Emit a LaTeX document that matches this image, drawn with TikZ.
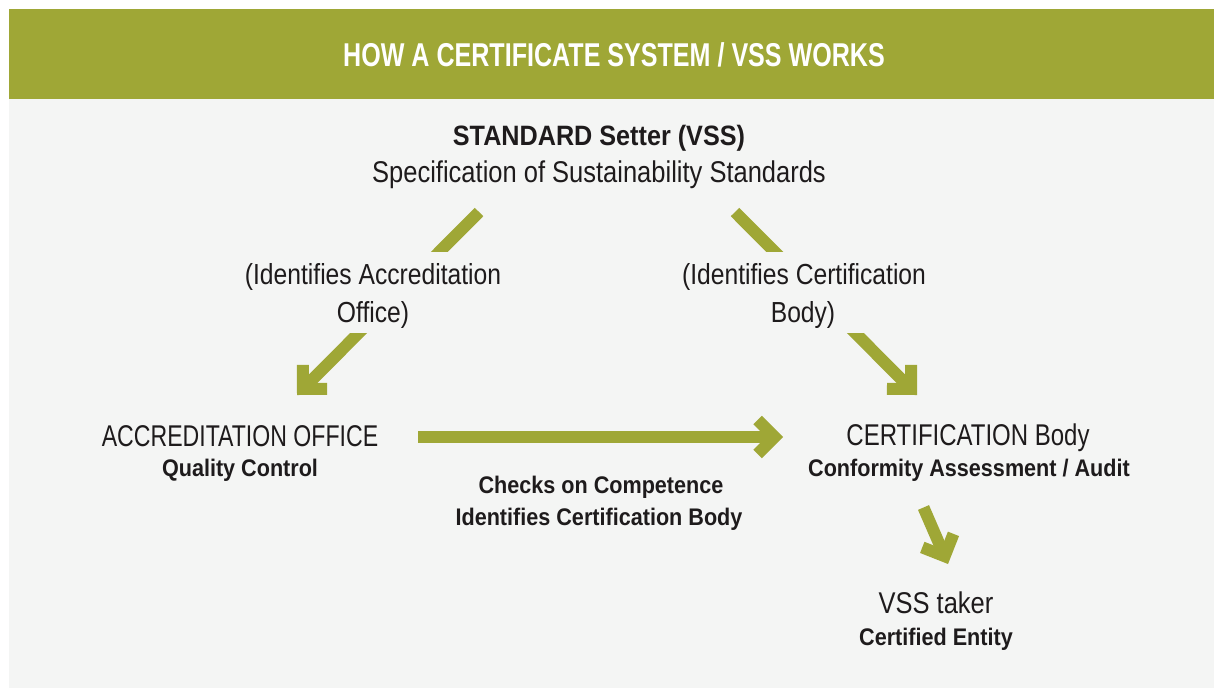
\documentclass[tikz,border=0pt]{standalone}
\usepackage{fontspec}
\setmainfont{Liberation Sans}
\newfontfamily\regf{Liberation Sans}[FakeStretch=0.77]
\newfontfamily\regwf{Liberation Sans}[FakeStretch=0.85]
\newfontfamily\regmf{Liberation Sans}[FakeStretch=0.80]
\newfontfamily\bldf{Liberation Sans}[FakeStretch=0.9]
\newfontfamily\ttlf{Liberation Sans}[FakeStretch=0.76]
\usetikzlibrary{arrows.meta}
\definecolor{hdr}{RGB}{159,167,54}
\definecolor{panel}{RGB}{244,245,244}
\definecolor{ink}{RGB}{30,27,28}
\tikzset{
  txt/.style={inner sep=0pt, anchor=base, text=ink},
  regtxt/.style={txt, font=\regf\fontsize{30}{36}\selectfont},
  midtxt/.style={txt, font=\regmf\fontsize{30}{36}\selectfont},
  widetxt/.style={txt, font=\regwf\fontsize{30}{36}\selectfont},
  lbltxt/.style={txt, font=\regwf\fontsize{29}{36}\selectfont},
  bldtxt/.style={txt, font=\bldf\bfseries\fontsize{24}{28}\selectfont},
  bigbld/.style={txt, font=\bldf\bfseries\fontsize{28}{32}\selectfont},
  ttltxt/.style={inner sep=0pt, anchor=base, text=white, font=\ttlf\bfseries\fontsize{33}{36}\selectfont},
  fat/.style={draw=hdr, line width=12pt, line cap=butt,
    -{Straight Barb[sharp, length=17pt, width=34pt]}},
}
\begin{document}
\begin{tikzpicture}[x=1pt, y=-1pt]
\useasboundingbox (0,0) rectangle (1214,688);
\fill[white] (0,0) rectangle (1214,688);
\fill[panel] (9,99) rectangle (1214,688);
\fill[hdr] (9,9) rectangle (1214,99);
\node[ttltxt] (title) at (614,66) {HOW A CERTIFICATE SYSTEM / VSS WORKS};

% arrow end points
\coordinate (sA) at (479,212);
\coordinate (tA) at (297,395);
\coordinate (sB) at (735,212);
\coordinate (tB) at (917,395);
\coordinate (sC) at (418,437);
\coordinate (tC) at (783,437);
\coordinate (sD) at (923.5,507.5);
\coordinate (tD) at (948,564);

\draw[fat] (sA) -- (tA);
\draw[fat] (sB) -- (tB);
\draw[fat] (sC) -- (tC);
\draw[fat] (sD) -- (tD);

% gaps behind the arrow labels
\fill[panel] (240,252) rectangle (510,333);
\fill[panel] (675,252) rectangle (935,333);

\node[bigbld] (std) at (599,145) {STANDARD Setter (VSS)};
\node[widetxt] (stdsub) at (599,182) {Specification of Sustainability Standards};

\node[lbltxt] (lblA1) at (373,284) {(Identifies Accreditation};
\node[lbltxt] (lblA2) at (373,322) {Office)};
\node[lbltxt] (lblB1) at (804,284) {(Identifies Certification};
\node[lbltxt] (lblB2) at (803,322) {Body)};

\node[regtxt] (acc) at (240,446) {ACCREDITATION OFFICE};
\node[bldtxt] (accsub) at (240,476) {Quality Control};
\node[midtxt] (cert) at (968,445) {CERTIFICATION Body};
\node[bldtxt] (certsub) at (969,476) {Conformity Assessment / Audit};
\node[bldtxt] (chk1) at (601,493) {Checks on Competence};
\node[bldtxt] (chk2) at (599,525) {Identifies Certification Body};
\node[widetxt] (vss) at (936,613) {VSS taker};
\node[bldtxt] (vsssub) at (936,645) {Certified Entity};
\end{tikzpicture}
\end{document}
